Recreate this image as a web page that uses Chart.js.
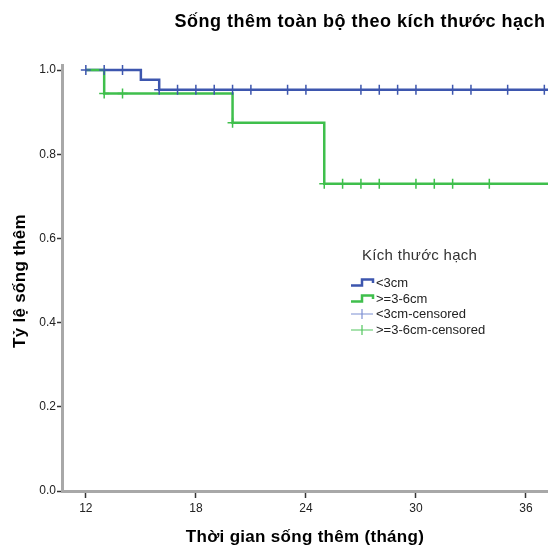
<!DOCTYPE html>
<html>
<head>
<meta charset="utf-8">
<script src="https://cdn.jsdelivr.net/npm/chart.js@4/dist/chart.umd.min.js"></script>
<style>
  html, body { margin: 0; padding: 0; background: #ffffff; overflow: hidden; }
  #wrap { width: 548px; height: 546px; }
  canvas { display: block; }
</style>
</head>
<body>
<div id="wrap"><canvas id="km" width="548" height="546"></canvas></div>
<script>
// Kaplan-Meier curves: overall survival by lymph node size
const chartTitle = 'Sống thêm toàn bộ theo kích thước hạch';
const xAxisTitle = 'Thời gian sống thêm (tháng)';
const yAxisTitle = 'Tỷ lệ sống thêm';
const legendTitle = 'Kích thước hạch';

const groupLabels = ['<3cm', '>=3-6cm'];
const censoredLabels = ['<3cm-censored', '>=3-6cm-censored'];

// step curves (time in months, cumulative survival)
const smallTimes = [12, 15, 16, 37.2];
const smallSurv  = [1.0, 0.977, 0.953, 0.953];
const largeTimes = [12, 13, 20, 25, 37.2];
const largeSurv  = [1.0, 0.944, 0.875, 0.73, 0.73];

// censored observations
const smallCensTimes = [12, 13, 14, 16, 17, 18, 19, 20, 21, 23, 24, 27, 28, 29, 30, 32, 33, 35, 37];
const smallCensSurv  = [1.0, 1.0, 1.0, 0.953, 0.953, 0.953, 0.953, 0.953, 0.953, 0.953, 0.953, 0.953, 0.953, 0.953, 0.953, 0.953, 0.953, 0.953, 0.953];
const largeCensTimes = [13, 14, 20, 25, 26, 27, 28, 30, 31, 32, 34];
const largeCensSurv  = [0.944, 0.944, 0.875, 0.73, 0.73, 0.73, 0.73, 0.73, 0.73, 0.73, 0.73];

const xTicks = [12, 18, 24, 30, 36];
const yTicks = [0, 0.2, 0.4, 0.6, 0.8, 1.0];

const BLUE = '#3d56ae';
const GREEN = '#3fbf4c';
const BLUE_LIGHT = '#7d8fd2';
const GREEN_LIGHT = '#52c65e';
const FONT = '"Liberation Sans", Arial, Helvetica, sans-serif';

const zip = (xs, ys) => xs.map((x, i) => ({ x: x, y: ys[i] }));

Chart.defaults.font.family = FONT;

function spacedText(ctx, text, x, y, spacing) {
  ctx.letterSpacing = spacing + 'px';
  ctx.fillText(text, x, y);
  ctx.letterSpacing = '0px';
}

// titles and legend block drawn on top of the plot
const decorations = {
  id: 'decorations',
  afterDraw(chart) {
    const ctx = chart.ctx;
    const area = chart.chartArea;
    ctx.save();
    ctx.fillStyle = '#000';
    ctx.textAlign = 'center';

    ctx.font = 'bold 18px ' + FONT;
    ctx.textBaseline = 'alphabetic';
    spacedText(ctx, chartTitle, 360, 27, 0.5);

    ctx.font = 'bold 17px ' + FONT;
    ctx.textBaseline = 'middle';
    spacedText(ctx, xAxisTitle, (area.left + area.right) / 2, 537, 0.3);

    ctx.save();
    ctx.translate(20, 281);
    ctx.rotate(-Math.PI / 2);
    spacedText(ctx, yAxisTitle, 0, 0, 0.3);
    ctx.restore();

    // legend
    ctx.fillStyle = '#333';
    ctx.textAlign = 'left';
    ctx.textBaseline = 'middle';
    ctx.font = '15px ' + FONT;
    spacedText(ctx, legendTitle, 362, 256, 0.3);

    const rows = [282.5, 298.5, 314, 330];
    const x0 = 351, x1 = 373, xm = 362;
    ctx.font = '13px ' + FONT;
    const ds = chart.data.datasets;
    rows.forEach((y, i) => {
      ctx.beginPath();
      if (i < 2) {
        ctx.strokeStyle = ds[i].borderColor;
        ctx.lineWidth = 2.5;
        ctx.moveTo(x0, y + 3);
        ctx.lineTo(xm, y + 3);
        ctx.lineTo(xm, y - 3);
        ctx.lineTo(x1, y - 3);
        ctx.lineTo(x1, y + 0.5);
      } else {
        ctx.strokeStyle = i === 2 ? BLUE_LIGHT : GREEN_LIGHT;
        ctx.lineWidth = 1.2;
        ctx.moveTo(x0, y);
        ctx.lineTo(x1, y);
        ctx.moveTo(xm, y - 5);
        ctx.lineTo(xm, y + 5);
      }
      ctx.stroke();
      ctx.fillStyle = '#222';
      ctx.fillText(ds[i].label, 376, y + 0.5);
    });
    ctx.restore();
  }
};

new Chart(document.getElementById('km'), {
  type: 'line',
  data: {
    datasets: [
      { label: groupLabels[0], data: zip(smallTimes, smallSurv), borderColor: BLUE,
        borderWidth: 2.5, stepped: 'before', pointRadius: 0, fill: false, order: 3 },
      { label: groupLabels[1], data: zip(largeTimes, largeSurv), borderColor: GREEN,
        borderWidth: 2.5, stepped: 'before', pointRadius: 0, fill: false, order: 2 },
      { label: censoredLabels[0], data: zip(smallCensTimes, smallCensSurv), showLine: false,
        pointStyle: 'cross', pointRadius: 5, pointBorderWidth: 1.5,
        borderColor: BLUE, pointBorderColor: BLUE, order: 0 },
      { label: censoredLabels[1], data: zip(largeCensTimes, largeCensSurv), showLine: false,
        pointStyle: 'cross', pointRadius: 5, pointBorderWidth: 1.5,
        borderColor: GREEN, pointBorderColor: GREEN, order: 1 }
    ]
  },
  options: {
    responsive: false,
    animation: false,
    devicePixelRatio: 1,
    layout: { autoPadding: false, padding: { top: 65, left: 0, right: 0, bottom: 0 } },
    plugins: {
      legend: { display: false },
      title: { display: false },
      tooltip: { enabled: false }
    },
    scales: {
      x: {
        type: 'linear',
        min: 10.7,
        max: 37.2,
        afterBuildTicks: s => { s.ticks = xTicks.map(v => ({ value: v })); },
        afterFit: s => { s.height = 55; s.paddingLeft = 0; s.paddingRight = 0; },
        grid: { drawOnChartArea: false, drawTicks: true, tickLength: 7, tickColor: '#333', tickWidth: 1.5 },
        border: { display: true, color: '#a8a8a8', width: 3 },
        ticks: { color: '#222', font: { size: 12 }, padding: 3, maxRotation: 0, autoSkip: false,
                 callback: v => String(v) }
      },
      y: {
        type: 'linear',
        min: 0,
        max: 1.012,
        afterBuildTicks: s => { s.ticks = yTicks.map(v => ({ value: v })); },
        afterFit: s => { s.width = 62; s.paddingTop = 0; s.paddingBottom = 0; },
        grid: { drawOnChartArea: false, drawTicks: true, tickLength: 5, tickColor: '#333', tickWidth: 1.5 },
        border: { display: true, color: '#a8a8a8', width: 3 },
        ticks: { color: '#222', font: { size: 12 }, padding: 1, autoSkip: false,
                 callback: v => v.toFixed(1) }
      }
    }
  },
  plugins: [decorations]
});
</script>
</body>
</html>
